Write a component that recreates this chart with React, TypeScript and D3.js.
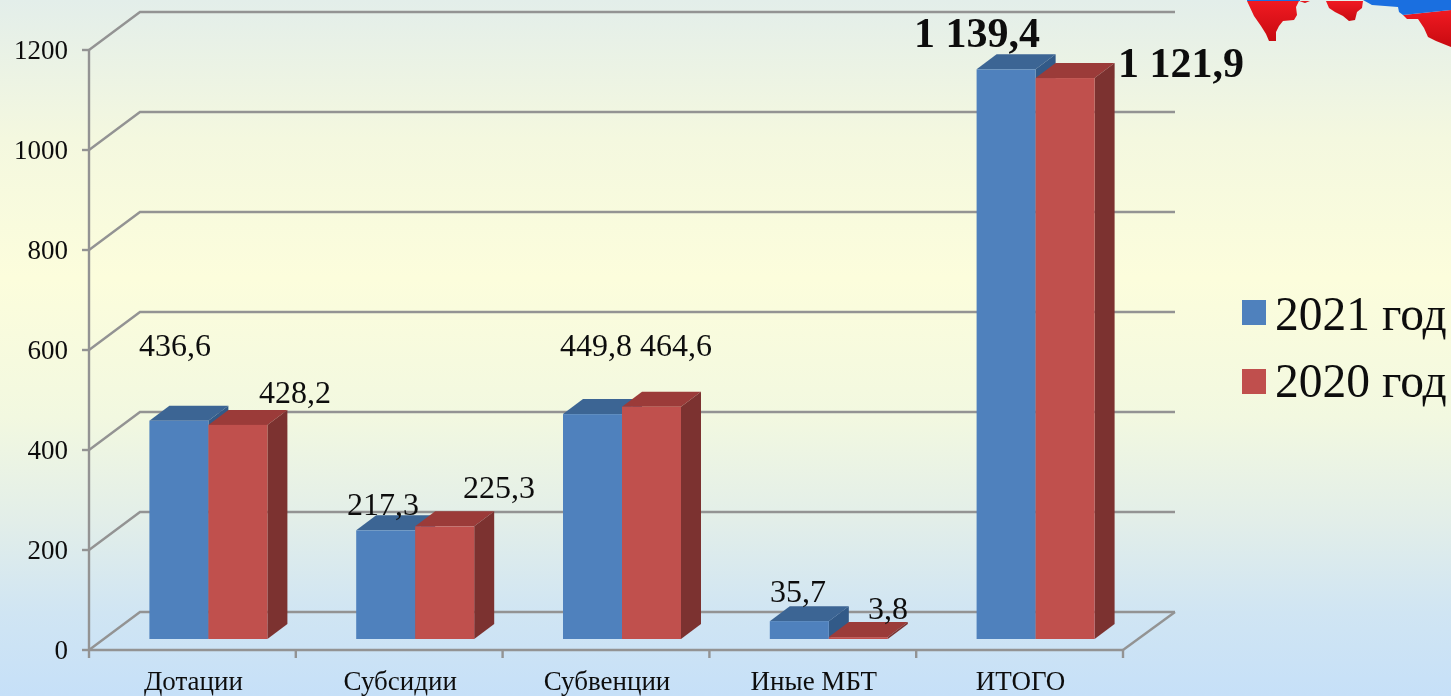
import React from "react";
import * as d3 from "d3";

const categories = ["Дотации", "Субсидии", "Субвенции", "Иные МБТ", "ИТОГО"];
const values2021 = [436.6, 217.3, 449.8, 35.7, 1139.4];
const values2020 = [428.2, 225.3, 464.6, 3.8, 1121.9];
const labels2021 = ["436,6", "217,3", "449,8", "35,7", "1 139,4"];
const labels2020 = ["428,2", "225,3", "464,6", "3,8", "1 121,9"];
const yTicks = [0, 200, 400, 600, 800, 1000, 1200];
const seriesNames = ["2021 год", "2020 год"];

const W = 1451, H = 696;
const DX = 51, DY = -38;
const BDX = 20, BDY = -15;
const FLOOR_DROP = 11;
const font = "'Liberation Serif', serif";
const GRID = "#939393";

const y = d3.scaleLinear().domain([0, 1200]).range([650, 50]);
const x0 = d3.scaleBand<string>().domain(categories).range([89, 1123]);
const barW = 59;

const blue = { front: "#4f81bd", top: "#3c6594", side: "#325a88" };
const red = { front: "#c0504d", top: "#9b3b39", side: "#7c3230" };

function Bar({ x, v, c }: { x: number; v: number; c: typeof blue }) {
  const base = y(0) - FLOOR_DROP;
  const top = base - (y(0) - y(v));
  const path = d3.path();
  path.moveTo(x, top);
  path.lineTo(x + BDX, top + BDY);
  path.lineTo(x + barW + BDX, top + BDY);
  path.lineTo(x + barW, top);
  path.closePath();
  const side = d3.path();
  side.moveTo(x + barW, top);
  side.lineTo(x + barW + BDX, top + BDY);
  side.lineTo(x + barW + BDX, base + BDY);
  side.lineTo(x + barW, base);
  side.closePath();
  return (
    <g>
      <path d={path.toString()} fill={c.top} />
      <path d={side.toString()} fill={c.side} />
      <rect x={x} y={top} width={barW} height={base - top} fill={c.front} />
    </g>
  );
}

const labelPos2021 = [[175, 356], [383, 515], [596, 356], [798, 602], [977, 47]];
const labelPos2020 = [[295, 403], [499, 498], [676, 356], [888, 619], [1181, 77]];

export default function App() {
  const line = d3.line();
  return (
    <svg width={W} height={H} style={{ position: "absolute", left: 0, top: 0 }} fontFamily={font}>
      <defs>
        <linearGradient id="bg" x1="0" y1="0" x2="0" y2="1">
          <stop offset="0" stopColor="#e3eeea" />
          <stop offset="0.2" stopColor="#f4f8df" />
          <stop offset="0.4" stopColor="#fcfddc" />
          <stop offset="0.6" stopColor="#f2f8e0" />
          <stop offset="0.75" stopColor="#e2eee9" />
          <stop offset="0.88" stopColor="#d0e5f3" />
          <stop offset="1" stopColor="#c6e0f8" />
        </linearGradient>
        <linearGradient id="flag" x1="0" y1="0" x2="0" y2="1">
          <stop offset="0" stopColor="#f01a22" />
          <stop offset="1" stopColor="#c80a10" />
        </linearGradient>
        <filter id="soft"><feGaussianBlur stdDeviation="0.45" /></filter>
      </defs>
      <rect width={W} height={H} fill="url(#bg)" />

      {/* map fragment */}
      <path d="M1247 1 L1299 1 L1296 7 L1297 15 L1294 20 L1283 21 L1279 26 L1276 32 L1276 41 L1269 41 L1266 34 L1261 26 L1254 16 Z" fill="url(#flag)" />
      <path d="M1326 1 L1363 1 L1362 8 L1357 12 L1355 20 L1349 21 L1343 16 L1335 12 L1329 8 Z" fill="url(#flag)" />
      <path d="M1299 1 L1305 3 L1310 1 Z" fill="url(#flag)" />
      <path d="M1403 15 L1451 10 L1451 47 L1436 41 L1428 37 L1424 28 L1418 19 L1407 19 Z" fill="url(#flag)" />
      <path d="M1363 0 L1451 0 L1451 10 L1403 15 L1399 12 L1398 7 L1385 6 L1372 5 Z" fill="#1a6fe0" />
      <path d="M1247 0 L1300 0 L1300 1 L1247 1 Z" fill="#1a6fe0" />

      {/* walls, floor and axes */}
      <g fill="none" stroke={GRID} strokeWidth={2.4}>
        {yTicks.map((t) => (
          <path
            key={t}
            d={line([[89, y(t)], [89 + DX, y(t) + DY], [1175, y(t) + DY]]) as string}
          />
        ))}
        <path d={line([[89, y(0)], [89, y(1200)]]) as string} />
        <path d={line([[89, y(0)], [1123, y(0)]]) as string} />
        <path d={line([[1123, y(0)], [1123 + DX + 1, y(0) + DY]]) as string} />
        {yTicks.map((t) => (
          <path key={t} d={line([[82, y(t)], [89, y(t)]]) as string} />
        ))}
        {[...categories.map((c) => x0(c) as number), 1123].map((t) => (
          <path key={t} d={line([[t, y(0)], [t, y(0) + 8]]) as string} />
        ))}
      </g>

      {/* bars */}
      {categories.map((c, i) => {
        const cx = (x0(c) as number) + x0.bandwidth() / 2 + 16;
        return (
          <g key={c}>
            <Bar x={cx - barW} v={values2021[i]} c={blue} />
            <Bar x={cx} v={values2020[i]} c={red} />
          </g>
        );
      })}

      <g filter="url(#soft)" fill="#111">
        {yTicks.map((t) => (
          <text key={t} x={68} y={y(t) + 9} textAnchor="end" fontSize={27}>{t}</text>
        ))}
        {categories.map((c) => (
          <text
            key={c}
            x={(x0(c) as number) + x0.bandwidth() / 2 + 1}
            y={690}
            textAnchor="middle"
            fontSize={27}
          >
            {c}
          </text>
        ))}
        {labels2021.map((l, i) => {
          const big = i === 4;
          return (
            <text
              key={l}
              x={labelPos2021[i][0]}
              y={labelPos2021[i][1]}
              textAnchor="middle"
              fontSize={big ? 42 : 32}
              fontWeight={big ? 700 : 400}
            >
              {l}
            </text>
          );
        })}
        {labels2020.map((l, i) => {
          const big = i === 4;
          return (
            <text
              key={l}
              x={labelPos2020[i][0]}
              y={labelPos2020[i][1]}
              textAnchor="middle"
              fontSize={big ? 42 : 32}
              fontWeight={big ? 700 : 400}
            >
              {l}
            </text>
          );
        })}
        {seriesNames.map((s, i) => (
          <g key={s}>
            <rect x={1242} y={300 + i * 69} width={24} height={25} fill={i === 0 ? blue.front : red.front} />
            <text x={1275} y={330 + i * 67} fontSize={47.5}>{s}</text>
          </g>
        ))}
      </g>
    </svg>
  );
}
